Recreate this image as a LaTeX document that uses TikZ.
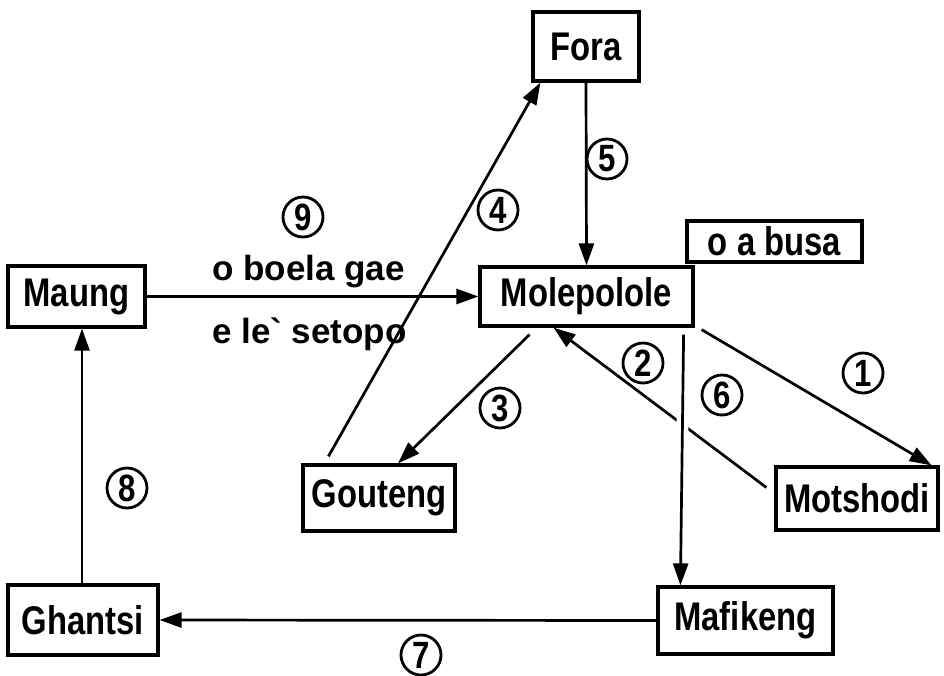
\documentclass[tikz,border=0pt]{standalone}
\usepackage{fontspec}
\setmainfont{Liberation Sans}
\newfontfamily\boxfont{Liberation Sans}[FakeStretch=0.82]
\newfontfamily\rawfont{Liberation Sans}[Ligatures=TeXOff]
\usetikzlibrary{calc,arrows.meta}
\begin{document}
\begin{tikzpicture}[x=1pt,y=-1pt,
  place/.style={draw, line width=3.2pt, inner sep=0pt,
    font=\boxfont\bfseries\fontsize{40}{40}\selectfont},
  num/.style={circle, draw, line width=2.8pt, minimum size=40pt, inner sep=0pt,
    font=\boxfont\bfseries\fontsize{38}{38}\selectfont},
  lab/.style={anchor=base, inner sep=0pt, font=\bfseries\fontsize{35}{35}\selectfont},
  conn/.style={line width=2.7pt, -{Triangle[length=22pt,width=15pt]}},
]
\useasboundingbox (0,0) rectangle (944,675);

% place boxes
\node[place, minimum width=106pt, minimum height=69pt] (fora) at (586,46.5) {Fora};
\node[place, minimum width=213pt, minimum height=59pt] (mole) at (586.5,296.5) {Molepolole};
\node[place, minimum width=175pt, minimum height=41pt] (busa) at (774.5,241.5) {o a busa};
\node[place, minimum width=137pt, minimum height=61pt] (maung) at (76.5,296.5) {Maung};
\node[place, minimum width=152pt, minimum height=66pt] (gout) at (379,498) {Gouteng};
\node[place, minimum width=162pt, minimum height=63pt] (mots) at (857,498.5) {Motshodi};
\node[place, minimum width=175pt, minimum height=67pt] (mafi) at (745.5,620.5) {Mafikeng};
\node[place, minimum width=150pt, minimum height=70pt] (ghan) at (83,620) {Ghantsi};

% connectors
\draw[conn] (maung.east) -- (mole.west);
\draw[conn] (fora.south) -- (mole.north);
\draw[conn] ($(gout.north west)+(27,-7)$) -- ($(fora.south west)+(9,0)$);
\draw[conn] ($(mole.south)+(-57,7)$) -- ($(gout.north)+(19,0)$);
\draw[conn] ($(mots.west)+(-8,-11)$) -- ($(mole.south)+(-33,0)$);
\draw[conn, preaction={draw=white, line width=12pt, -{}, shorten <=20pt, shorten >=20pt}]
  ($(mole.south east)+(-11,7)$) -- ($(mafi.north west)+(24,0)$);
\draw[conn] ($(mole.south east)+(7,2)$) -- ($(mots.north east)+(-8,0)$);
\draw[conn] (mafi.west) -- (ghan.east);
\draw[conn] ($(ghan.north)+(-1,0)$) -- ($(maung.south)+(5.5,0)$);

% circled numbers
\node[num] (n9) at (303,217) {9};
\node[num] (n4) at (498,210) {4};
\node[num] (n5) at (607,159) {5};
\node[num] (n3) at (500,408) {3};
\node[num] (n2) at (643,363) {2};
\node[num] (n6) at (722,395) {6};
\node[num] (n1) at (863,373) {1};
\node[num] (n8) at (127,488) {8};
\node[num] (n7) at (421,655) {7};

% labels
\node[lab] (l1) at (308.5,280) {o boela gae};
\node[lab] (l2) at (309.5,343) {e le{\rawfont\bfseries `} setopo};
\end{tikzpicture}
\end{document}
